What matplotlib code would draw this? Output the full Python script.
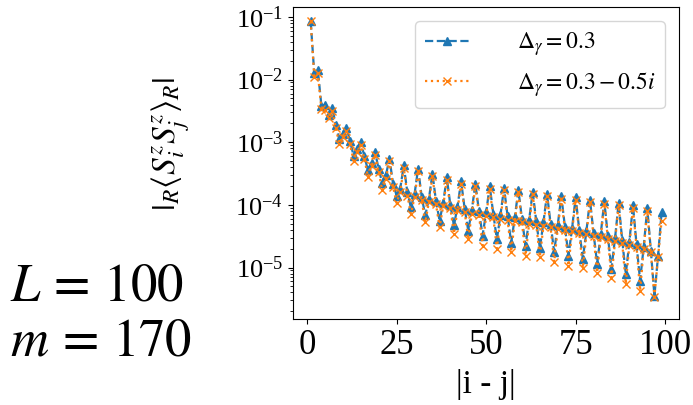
import matplotlib
matplotlib.use("Agg")
import matplotlib.pyplot as plt
import numpy as np

plt.rcParams['font.family'] = ['Liberation Serif', 'DejaVu Serif']
plt.rcParams['mathtext.fontset'] = 'stix'

# distance |i - j|
dist = np.arange(1, 100)

# |_R<S^z_i S^z_j>_R| for Delta_gamma = 0.3
corr_real = [8.5e-2, 1.26e-2, 1.41e-2, 3.8e-3, 4.0e-3, 2.75e-3, 3.55e-3, 1.91e-3, 1.12e-3, 1.38e-3,
             1.66e-3, 1.05e-3, 6.0e-4, 7.9e-4, 1.0e-3, 6.0e-4, 3.55e-4, 4.7e-4, 6.9e-4, 3.7e-4,
             2.24e-4, 2.95e-4, 5.5e-4, 2.19e-4, 1.41e-4, 1.82e-4, 4.27e-4, 1.58e-4, 9.1e-5, 1.48e-4,
             3.8e-4, 1.35e-4, 6.8e-5, 1.23e-4, 3.16e-4, 1.15e-4, 5.6e-5, 1.07e-4, 2.75e-4, 1.0e-4,
             4.7e-5, 9.3e-5, 2.4e-4, 8.7e-5, 3.9e-5, 8.3e-5, 2.19e-4, 7.9e-5, 3.24e-5, 7.6e-5,
             2.0e-4, 7.2e-5, 2.82e-5, 6.9e-5, 1.86e-4, 6.6e-5, 2.5e-5, 6.3e-5, 1.74e-4, 6.0e-5,
             2.24e-5, 5.75e-5, 1.62e-4, 5.5e-5, 2.04e-5, 5.25e-5, 1.51e-4, 5.0e-5, 1.78e-5, 4.8e-5,
             1.38e-4, 4.47e-5, 1.55e-5, 4.27e-5, 1.32e-4, 3.98e-5, 1.38e-5, 3.8e-5, 1.2e-4, 3.55e-5,
             1.15e-5, 3.39e-5, 1.15e-4, 3.16e-5, 9.5e-6, 2.95e-5, 1.07e-4, 2.75e-5, 7.9e-6, 2.57e-5,
             1.0e-4, 2.34e-5, 6.2e-6, 2.14e-5, 8.9e-5, 1.86e-5, 3.55e-6, 1.51e-5, 7.6e-5]

# same for Delta_gamma = 0.3 - 0.5i
corr_complex = [8.5e-2, 1.12e-2, 1.26e-2, 3.39e-3, 3.31e-3, 2.4e-3, 3.16e-3, 1.7e-3, 9.5e-4, 1.23e-3,
                1.51e-3, 9.3e-4, 5.0e-4, 7.1e-4, 9.1e-4, 5.4e-4, 2.82e-4, 4.17e-4, 6.3e-4, 3.31e-4,
                1.7e-4, 2.63e-4, 5.0e-4, 1.95e-4, 1.07e-4, 1.62e-4, 3.89e-4, 1.41e-4, 7.2e-5, 1.32e-4,
                3.47e-4, 1.2e-4, 5.25e-5, 1.1e-4, 2.88e-4, 1.02e-4, 4.37e-5, 9.5e-5, 2.51e-4, 8.9e-5,
                3.47e-5, 8.3e-5, 2.19e-4, 7.8e-5, 2.82e-5, 7.2e-5, 2.0e-4, 6.9e-5, 2.24e-5, 6.6e-5,
                1.82e-4, 6.3e-5, 2.0e-5, 6.0e-5, 1.7e-4, 5.75e-5, 1.78e-5, 5.5e-5, 1.58e-4, 5.25e-5,
                1.55e-5, 5.0e-5, 1.48e-4, 4.8e-5, 1.48e-5, 4.57e-5, 1.38e-4, 4.37e-5, 1.23e-5, 4.17e-5,
                1.26e-4, 3.98e-5, 1.07e-5, 3.8e-5, 1.2e-4, 3.55e-5, 9.8e-6, 3.39e-5, 1.1e-4, 3.16e-5,
                8.3e-6, 3.02e-5, 1.05e-4, 2.82e-5, 6.9e-6, 2.63e-5, 9.8e-5, 2.45e-5, 5.5e-6, 2.29e-5,
                8.9e-5, 2.14e-5, 4.27e-6, 1.95e-5, 8.1e-5, 1.74e-5, 3.4e-6, 1.45e-5, 5.6e-5]

labels = [r'$\Delta_\gamma = 0.3$', r'$\Delta_\gamma = 0.3-0.5i$']
xticks = [0, 25, 50, 75, 100]

fig = plt.figure(figsize=(6.93, 4.05), dpi=100)
ax = fig.add_axes([0.423, 0.212, 0.557, 0.771])

ax.plot(dist, corr_real, '--', marker='^', color='#1f77b4', ms=6, lw=1.6, label=labels[0])
ax.plot(dist, corr_complex, ':', marker='x', color='#ff7f0e', ms=6, lw=1.6, label=labels[1])

ax.set_yscale('log')
ax.set_ylim(1.5e-6, 1.45e-1)
ax.set_xticks(xticks)
ax.tick_params(axis='x', labelsize=25)
ax.tick_params(axis='y', labelsize=19)
ax.set_xlabel('|i - j|', fontsize=24)
ax.xaxis.set_label_coords(0.5, -0.16)
ax.set_ylabel(r'$|_R\langle S_i^z S_j^z\rangle_R|$', fontsize=24)
ax.yaxis.set_label_coords(-0.262, 0.56)

ax.legend(loc='upper right', fontsize=17, handlelength=1.9, handletextpad=2.0,
          borderaxespad=0.6)

fig.text(0.015, 0.29, '$L\\,=\\,100$', fontsize=38, ha='left', va='center')
fig.text(0.015, 0.155, '$m\\,=\\,170$', fontsize=38, ha='left', va='center')

fig.savefig('out.png')
